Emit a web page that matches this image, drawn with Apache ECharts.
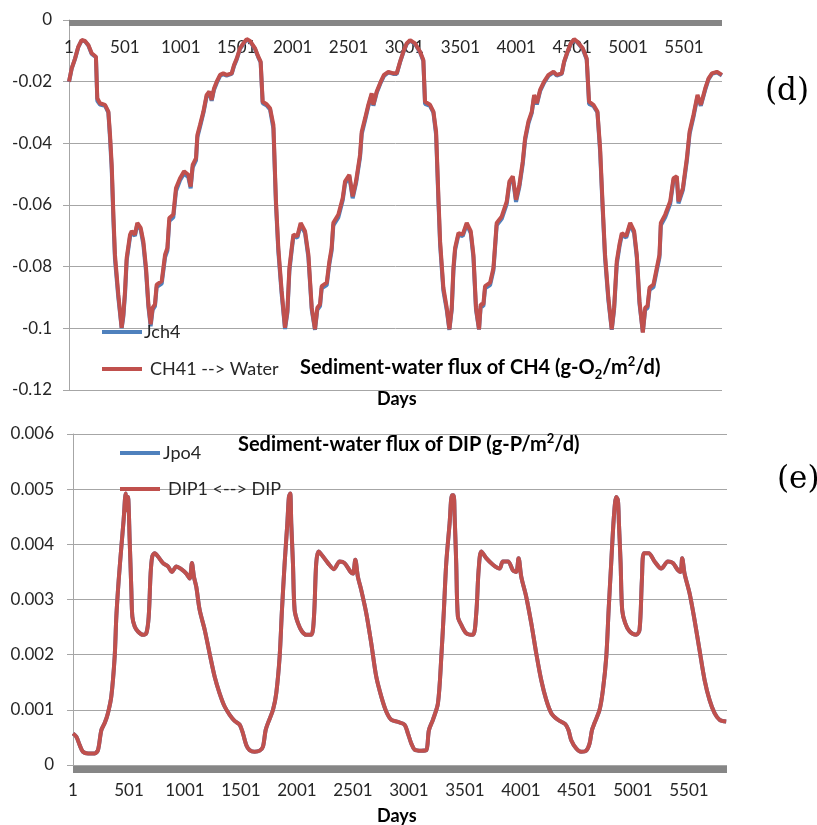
<!DOCTYPE html>
<html>
<head>
<meta charset="utf-8">
<script src="https://cdn.jsdelivr.net/npm/echarts@6/dist/echarts.min.js"></script>
<style>html,body{margin:0;padding:0;background:#fff;}#c{width:817px;height:825px;}</style>
</head>
<body>
<div id="c"></div>
<script>
// ---- Panel (d): sediment-water flux of CH4 ----
const chDays = [0,24,54,83,113,143,173,203,241,253,277,322,352,367,382,397,411,441,471,486,501,516,546,561,590,611,641,665,689,710,730,748,769,784,829,859,880,897,933,957,993,1029,1067,1088,1106,1136,1148,1172,1202,1231,1255,1276,1297,1321,1351,1380,1410,1455,1476,1500,1529,1559,1589,1619,1664,1693,1714,1732,1768,1798,1828,1851,1872,1902,1932,1953,1971,1992,2007,2042,2072,2111,2141,2171,2200,2221,2245,2260,2305,2329,2349,2364,2409,2448,2469,2507,2537,2567,2603,2618,2648,2677,2707,2722,2752,2788,2817,2856,2901,2931,2961,2990,3020,3050,3095,3140,3169,3184,3229,3259,3283,3304,3319,3348,3378,3402,3423,3438,3453,3483,3521,3557,3593,3617,3640,3667,3682,3706,3721,3766,3796,3825,3870,3915,3939,3969,3998,4028,4058,4079,4109,4139,4160,4184,4213,4249,4288,4333,4362,4407,4428,4458,4487,4517,4547,4595,4630,4651,4690,4726,4750,4771,4794,4824,4854,4875,4899,4923,4944,4983,5019,5054,5078,5102,5132,5153,5174,5192,5227,5257,5281,5293,5332,5377,5406,5436,5451,5490,5526,5550,5585,5621,5651,5690,5720,5750,5794,5839];
const ch41 = [-0.0200,-0.0157,-0.0125,-0.0087,-0.0065,-0.0068,-0.0081,-0.0108,-0.0119,-0.0254,
-0.0270,-0.0275,-0.0297,-0.0373,-0.0470,-0.0631,-0.0761,-0.0890,-0.0998,-0.0955,
-0.0879,-0.0771,-0.0696,-0.0685,-0.0696,-0.0658,-0.0674,-0.0718,-0.0804,-0.0922,
-0.0987,-0.0933,-0.0922,-0.0858,-0.0847,-0.0761,-0.0739,-0.0642,-0.0631,-0.0545,
-0.0513,-0.0491,-0.0502,-0.0540,-0.0470,-0.0448,-0.0373,-0.0340,-0.0297,-0.0243,
-0.0232,-0.0259,-0.0222,-0.0200,-0.0178,-0.0173,-0.0178,-0.0173,-0.0146,-0.0125,
-0.0092,-0.0076,-0.0062,-0.0068,-0.0092,-0.0119,-0.0135,-0.0265,-0.0273,-0.0286,
-0.0340,-0.0588,-0.0739,-0.0879,-0.0998,-0.0944,-0.0804,-0.0739,-0.0696,-0.0701,
-0.0658,-0.0685,-0.0761,-0.0933,-0.1003,-0.0933,-0.0922,-0.0863,-0.0852,-0.0782,
-0.0739,-0.0658,-0.0631,-0.0577,-0.0523,-0.0502,-0.0572,-0.0523,-0.0437,-0.0362,
-0.0319,-0.0275,-0.0238,-0.0275,-0.0232,-0.0200,-0.0178,-0.0168,-0.0173,-0.0173,
-0.0135,-0.0103,-0.0076,-0.0065,-0.0076,-0.0103,-0.0130,-0.0265,-0.0275,-0.0297,
-0.0362,-0.0577,-0.0718,-0.0868,-0.0933,-0.1003,-0.0933,-0.0804,-0.0739,-0.0691,
-0.0696,-0.0658,-0.0685,-0.0761,-0.0933,-0.1003,-0.0922,-0.0922,-0.0863,-0.0852,
-0.0804,-0.0658,-0.0637,-0.0588,-0.0523,-0.0507,-0.0583,-0.0534,-0.0459,-0.0383,
-0.0329,-0.0297,-0.0243,-0.0270,-0.0227,-0.0200,-0.0178,-0.0168,-0.0178,-0.0173,
-0.0135,-0.0103,-0.0076,-0.0062,-0.0071,-0.0092,-0.0125,-0.0265,-0.0275,-0.0297,
-0.0416,-0.0588,-0.0761,-0.0901,-0.1003,-0.0933,-0.0782,-0.0728,-0.0691,-0.0701,
-0.0658,-0.0685,-0.0761,-0.0912,-0.1014,-0.0933,-0.0928,-0.0868,-0.0858,-0.0804,
-0.0761,-0.0658,-0.0631,-0.0588,-0.0513,-0.0507,-0.0588,-0.0545,-0.0448,-0.0362,
-0.0308,-0.0243,-0.0275,-0.0222,-0.0189,-0.0173,-0.0168,-0.0178];
const jch4 = [-0.0201,-0.0158,-0.0126,-0.0088,-0.0066,-0.0069,-0.0083,-0.0110,-0.0121,-0.0262,
-0.0274,-0.0278,-0.0300,-0.0385,-0.0485,-0.0648,-0.0775,-0.0900,-0.1000,-0.0962,
-0.0890,-0.0780,-0.0703,-0.0690,-0.0700,-0.0662,-0.0680,-0.0728,-0.0815,-0.0930,
-0.0993,-0.0940,-0.0928,-0.0866,-0.0855,-0.0770,-0.0748,-0.0652,-0.0640,-0.0555,
-0.0520,-0.0498,-0.0510,-0.0546,-0.0478,-0.0455,-0.0380,-0.0346,-0.0302,-0.0248,
-0.0237,-0.0262,-0.0226,-0.0204,-0.0181,-0.0176,-0.0180,-0.0175,-0.0149,-0.0128,
-0.0094,-0.0078,-0.0064,-0.0070,-0.0094,-0.0121,-0.0138,-0.0270,-0.0277,-0.0290,
-0.0352,-0.0600,-0.0750,-0.0890,-0.1002,-0.0950,-0.0815,-0.0746,-0.0702,-0.0706,
-0.0664,-0.0691,-0.0770,-0.0940,-0.1005,-0.0940,-0.0928,-0.0870,-0.0860,-0.0790,
-0.0748,-0.0666,-0.0640,-0.0585,-0.0530,-0.0508,-0.0578,-0.0530,-0.0445,-0.0370,
-0.0325,-0.0280,-0.0242,-0.0278,-0.0236,-0.0203,-0.0181,-0.0170,-0.0175,-0.0175,
-0.0137,-0.0105,-0.0078,-0.0067,-0.0078,-0.0105,-0.0133,-0.0272,-0.0279,-0.0300,
-0.0372,-0.0590,-0.0730,-0.0878,-0.0940,-0.1005,-0.0940,-0.0815,-0.0746,-0.0697,
-0.0701,-0.0663,-0.0691,-0.0770,-0.0940,-0.1004,-0.0928,-0.0928,-0.0870,-0.0860,
-0.0812,-0.0666,-0.0645,-0.0596,-0.0530,-0.0513,-0.0590,-0.0541,-0.0467,-0.0390,
-0.0335,-0.0301,-0.0247,-0.0274,-0.0231,-0.0203,-0.0181,-0.0170,-0.0180,-0.0175,
-0.0137,-0.0105,-0.0078,-0.0064,-0.0073,-0.0094,-0.0128,-0.0272,-0.0279,-0.0300,
-0.0428,-0.0600,-0.0772,-0.0910,-0.1005,-0.0940,-0.0792,-0.0735,-0.0697,-0.0706,
-0.0663,-0.0691,-0.0770,-0.0920,-0.1012,-0.0940,-0.0934,-0.0875,-0.0866,-0.0812,
-0.0770,-0.0666,-0.0640,-0.0596,-0.0520,-0.0513,-0.0595,-0.0552,-0.0456,-0.0370,
-0.0314,-0.0248,-0.0278,-0.0226,-0.0192,-0.0175,-0.0170,-0.0180];

// ---- Panel (e): sediment-water flux of DIP ----
const dipDays = [0,30,60,89,134,193,223,253,283,312,
342,372,387,408,432,452,470,479,491,506,
521,530,551,580,625,655,676,693,708,729,
759,804,848,884,923,961,1012,1042,1062,1080,
1101,1131,1176,1220,1265,1309,1354,1399,1443,1488,
1518,1548,1577,1622,1667,1696,1720,1741,1786,1815,
1845,1866,1890,1914,1928,1940,1949,1964,1979,2009,
2045,2083,2128,2152,2172,2193,2232,2277,2330,2381,
2425,2479,2500,2521,2544,2574,2619,2663,2708,2753,
2797,2842,2902,2961,2991,3021,3050,3110,3155,3178,
3214,3259,3289,3312,3333,3363,3384,3399,3408,3422,
3437,3467,3512,3571,3601,3622,3646,3690,3750,3809,
3839,3884,3928,3958,3979,4003,4047,4092,4137,4181,
4226,4271,4330,4396,4425,4449,4494,4538,4583,4613,
4634,4657,4702,4732,4762,4783,4806,4830,4851,4866,
4875,4890,4904,4931,4970,5029,5059,5080,5098,5140,
5193,5253,5312,5357,5402,5425,5440,5461,5506,5550,
5595,5640,5684,5729,5774,5833];
const dip1 = [0.00057,0.00051,0.00036,0.00024,0.00021,0.00021,0.00027,0.00063,0.00076,0.00094,
0.00124,0.00196,0.00269,0.00335,0.00396,0.00444,0.00492,0.00462,0.00486,0.00408,
0.00317,0.00269,0.00251,0.00242,0.00236,0.00239,0.00269,0.00347,0.00378,0.00384,
0.00378,0.00366,0.00360,0.00350,0.00360,0.00356,0.00347,0.00338,0.00366,0.00341,
0.00323,0.00281,0.00245,0.00202,0.00160,0.00130,0.00106,0.00091,0.00080,0.00073,
0.00057,0.00036,0.00027,0.00024,0.00026,0.00033,0.00063,0.00076,0.00100,0.00130,
0.00196,0.00281,0.00366,0.00438,0.00486,0.00492,0.00438,0.00366,0.00281,0.00257,
0.00242,0.00236,0.00236,0.00269,0.00366,0.00387,0.00378,0.00366,0.00355,0.00369,
0.00366,0.00350,0.00347,0.00372,0.00341,0.00317,0.00275,0.00221,0.00160,0.00124,
0.00097,0.00082,0.00078,0.00073,0.00057,0.00039,0.00028,0.00026,0.00027,0.00063,
0.00082,0.00112,0.00196,0.00281,0.00366,0.00438,0.00489,0.00489,0.00450,0.00366,
0.00269,0.00254,0.00239,0.00236,0.00275,0.00353,0.00387,0.00375,0.00363,0.00356,
0.00369,0.00369,0.00353,0.00350,0.00375,0.00341,0.00305,0.00257,0.00202,0.00154,
0.00118,0.00094,0.00082,0.00074,0.00063,0.00045,0.00030,0.00024,0.00026,0.00039,
0.00063,0.00076,0.00100,0.00136,0.00196,0.00281,0.00366,0.00450,0.00486,0.00480,
0.00438,0.00366,0.00281,0.00257,0.00242,0.00236,0.00245,0.00335,0.00384,0.00384,
0.00369,0.00356,0.00369,0.00366,0.00353,0.00350,0.00375,0.00347,0.00311,0.00263,
0.00208,0.00154,0.00118,0.00094,0.00082,0.00079];
const jpo4 = [0.00057,0.00051,0.00036,0.00024,0.00021,0.00021,0.00027,0.00063,0.00076,0.00094,
0.00124,0.00196,0.00269,0.00335,0.00396,0.00444,0.00492,0.00462,0.00486,0.00408,
0.00317,0.00269,0.00251,0.00242,0.00236,0.00239,0.00269,0.00347,0.00378,0.00384,
0.00378,0.00366,0.00360,0.00350,0.00360,0.00356,0.00347,0.00338,0.00366,0.00341,
0.00323,0.00281,0.00245,0.00202,0.00160,0.00130,0.00106,0.00091,0.00080,0.00073,
0.00057,0.00036,0.00027,0.00024,0.00026,0.00033,0.00063,0.00076,0.00100,0.00130,
0.00196,0.00281,0.00366,0.00438,0.00486,0.00492,0.00438,0.00366,0.00281,0.00257,
0.00242,0.00236,0.00236,0.00269,0.00366,0.00387,0.00378,0.00366,0.00355,0.00369,
0.00366,0.00350,0.00347,0.00372,0.00341,0.00317,0.00275,0.00221,0.00160,0.00124,
0.00097,0.00082,0.00078,0.00073,0.00057,0.00039,0.00028,0.00026,0.00027,0.00063,
0.00082,0.00112,0.00196,0.00281,0.00366,0.00438,0.00489,0.00489,0.00450,0.00366,
0.00269,0.00254,0.00239,0.00236,0.00275,0.00353,0.00387,0.00375,0.00363,0.00356,
0.00369,0.00369,0.00353,0.00350,0.00375,0.00341,0.00305,0.00257,0.00202,0.00154,
0.00118,0.00094,0.00082,0.00074,0.00063,0.00045,0.00030,0.00024,0.00026,0.00039,
0.00063,0.00076,0.00100,0.00136,0.00196,0.00281,0.00366,0.00450,0.00486,0.00480,
0.00438,0.00366,0.00281,0.00257,0.00242,0.00236,0.00245,0.00335,0.00384,0.00384,
0.00369,0.00356,0.00369,0.00366,0.00353,0.00350,0.00375,0.00347,0.00311,0.00263,
0.00208,0.00154,0.00118,0.00094,0.00082,0.00079];

const seriesNames = ['Jch4', 'CH41 --> Water', 'Jpo4', 'DIP1 <--> DIP'];
const BLUE = '#4F81BD', RED = '#C0504D';
const FONT = 'Lato';

const zip = (xs, ys) => xs.map((x, i) => [x, ys[i]]);
const numFmt = v => String(+(+v).toFixed(4));

function xAxisCfg(grid, pos, offset, width, margin) {
  return {
    gridIndex: grid, type: 'value', position: pos, min: 0, max: 5840, interval: 500,
    offset: offset,
    axisLine: { show: true, onZero: false, lineStyle: { color: '#868686', width: width, cap: 'butt' } },
    axisTick: { show: false }, splitLine: { show: false },
    axisLabel: {
      inside: pos === 'top', margin: margin, fontSize: 17, color: '#262626', fontFamily: FONT,
      showMaxLabel: false,
      formatter: v => (v > 5500 ? '' : String(v + 1))
    }
  };
}
function yAxisCfg(grid, min, max, interval, margin) {
  return {
    gridIndex: grid, type: 'value', min: min, max: max, interval: interval,
    axisLine: { show: true, onZero: false, lineStyle: { color: '#A6A6A6', width: 1 } },
    axisTick: { show: true, length: 6, lineStyle: { color: '#A6A6A6' } },
    splitLine: { show: true, lineStyle: { color: '#A6A6A6', width: 1 } },
    axisLabel: { margin: margin, fontSize: 17, color: '#262626', fontFamily: FONT, formatter: numFmt }
  };
}
function legendCfg(name, left, top, pad) {
  return {
    data: [name], left: left, top: top, orient: 'vertical', icon: 'rect',
    itemWidth: 40, itemHeight: 4, padding: 0, itemGap: 0, selectedMode: false,
    textStyle: { fontSize: 18, color: '#262626', fontFamily: FONT, padding: [0, 0, 0, pad] }
  };
}
function lineSeries(name, xi, data, color, smooth) {
  return {
    type: 'line', name: name, xAxisIndex: xi, yAxisIndex: xi, data: data,
    symbol: 'none', showSymbol: false, smooth: smooth,
    lineStyle: { color: color, width: 4 }, itemStyle: { color: color },
    emphasis: { disabled: true }
  };
}
const richT = {
  a: { fontSize: 20, fontWeight: 'bold', color: '#000', fontFamily: FONT, lineHeight: 26 },
  b: { fontSize: 13, fontWeight: 'bold', color: '#000', fontFamily: FONT, lineHeight: 26, verticalAlign: 'bottom', padding: [9, 0, 0, 0] },
  c: { fontSize: 13, fontWeight: 'bold', color: '#000', fontFamily: FONT, lineHeight: 26, verticalAlign: 'top', padding: [0, 0, 7, 0] }
};

const option = {
  animation: false,
  backgroundColor: '#fff',
  textStyle: { fontFamily: FONT },
  grid: [
    { left: 69, top: 20, width: 653, height: 370 },
    { left: 73, top: 434, width: 654, height: 331 }
  ],
  xAxis: [
    xAxisCfg(0, 'top', -3, 6, 16),
    xAxisCfg(1, 'bottom', 4, 7, 13)
  ],
  yAxis: [
    yAxisCfg(0, -0.12, 0, 0.02, 17),
    yAxisCfg(1, 0, 0.006, 0.001, 19)
  ],
  legend: [
    legendCfg(seriesNames[0], 102, 323, -3),
    legendCfg(seriesNames[1], 102, 360, 3),
    legendCfg(seriesNames[2], 120, 444, -2),
    legendCfg(seriesNames[3], 120, 480, 3)
  ],
  title: [
    { text: '{a|Sediment-water flux of CH4 (g-O}{b|2}{a|/m}{c|2}{a|/d)}', left: 300, top: 355, padding: 0, textStyle: { rich: richT } },
    { text: '{a|Sediment-water flux of DIP (g-P/m}{c|2}{a|/d)}', left: 238, top: 432, padding: 0, textStyle: { rich: richT } },
    { text: 'Days', left: 377, top: 390, padding: 0, textStyle: { fontSize: 18, fontWeight: 'bold', color: '#000', fontFamily: FONT } },
    { text: 'Days', left: 377, top: 807, padding: 0, textStyle: { fontSize: 18, fontWeight: 'bold', color: '#000', fontFamily: FONT } },
    { text: '(d)', left: 765, top: 76, padding: 0, textStyle: { fontSize: 31, fontWeight: 'normal', color: '#000', fontFamily: 'DejaVu Serif' } },
    { text: '(e)', left: 777, top: 464, padding: 0, textStyle: { fontSize: 31, fontWeight: 'normal', color: '#000', fontFamily: 'DejaVu Serif' } }
  ],
  series: [
    lineSeries(seriesNames[0], 0, zip(chDays, jch4), BLUE, false),
    lineSeries(seriesNames[1], 0, zip(chDays, ch41), RED, false),
    lineSeries(seriesNames[2], 1, zip(dipDays, jpo4), BLUE, 0.3),
    lineSeries(seriesNames[3], 1, zip(dipDays, dip1), RED, 0.3)
  ]
};

const chart = echarts.init(document.getElementById('c'), null, { renderer: 'canvas' });
chart.setOption(option);
</script>
</body>
</html>
